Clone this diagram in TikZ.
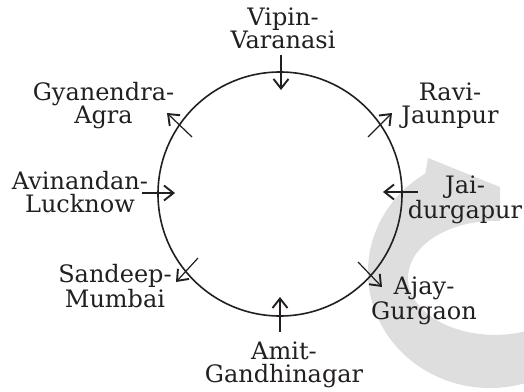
\documentclass[tikz,border=0pt]{standalone}
\usepackage{fontspec}
\setmainfont{DejaVu Serif}
\usepackage{tikz}
\usetikzlibrary{arrows.meta}
\definecolor{ink}{HTML}{231F20}
\definecolor{logogray}{HTML}{DEDEDE}

\begin{document}
\begin{tikzpicture}[x=1pt,y=1pt,
    lbl/.style={font=\fontsize{24}{23}\selectfont,text=ink,align=center,anchor=base,inner sep=0pt},
    arr/.style={draw=ink,line width=1.2pt,-{Straight Barb[length=9.5pt,width=15pt,line width=1.9pt]}}]
  \useasboundingbox (-280,-197) rectangle (244,194);
  % faint logo mark on the right
  \begin{scope}
    \clip (-280,-197) rectangle (244,194);
    \fill[logogray] (148,36) -- (220,7) -- (220,-27)
      arc[start angle=86.7,end angle=289.5,x radius=87,y radius=57]
      -- (270,-140) -- (270,-179)
      arc[start angle=299.5,end angle=122,x radius=122,y radius=116]
      -- cycle;
  \end{scope}
  % the ring
  \draw[ink,line width=1.6pt] (0,0) circle (122);
  % arrows: tail x/y, tip x/y
  \foreach \x/\y/\u/\v in {1/139/1/104, 0/-138/0/-103, -138/1/-105/1, 138/2/103/2,
      -88/57/-113/81, 88/57/112/81, -82/-64/-104/-88, 78/-68/102/-93}{
    \draw[arr] (\x,\y) -- (\u,\v);}
  % names and places
  \node[lbl] (vipin) at (3,145) {Vipin-\\Varanasi};
  \node[lbl] (gyanendra) at (-176.5,71) {Gyanendra-\\Agra};
  \node[lbl] (avinandan) at (-200,-18) {Avinandan-\\Lucknow};
  \node[lbl] (sandeep) at (-165,-113) {Sandeep-\\Mumbai};
  \node[lbl] (amit) at (4,-188) {Amit-\\Gandhinagar};
  \node[lbl] (ravi) at (170,71) {Ravi-\\Jaunpur};
  \node[lbl] (jai) at (185,-24) {Jai-\\durgapur};
  \node[lbl] (ajay) at (144,-125) {Ajay-\\Gurgaon};
\end{tikzpicture}
\end{document}
